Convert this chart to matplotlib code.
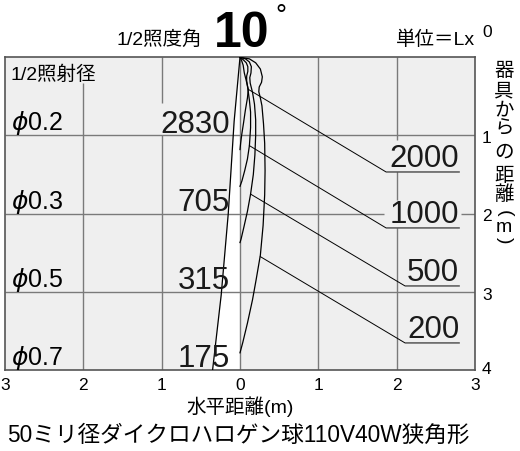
import matplotlib
matplotlib.use("Agg")
import matplotlib.pyplot as plt

plt.rcParams['font.family'] = ['Liberation Sans', 'Noto Sans CJK JP', 'DejaVu Sans']
plt.rcParams['mathtext.fontset'] = 'dejavusans'

# ---------------- data ----------------
x_ticks = [-3, -2, -1, 0, 1, 2, 3]
x_tick_labels = ['3', '2', '1', '0', '1', '2', '3']
depth_ticks = [0, 1, 2, 3, 4]

# 1/2 beam boundary (left side)
beam_x = [0, -0.075, -0.15, -0.24, -0.35]
beam_y = [0, 0.82, 2.0, 3.04, 4.0]

# centre illuminance & 1/2 beam diameter at 1..4 m
center_lux = ['2830', '705', '315', '175']
beam_diam = ['0.2', '0.3', '0.5', '0.7']
label_depth = [1, 2, 3, 4]

# isolux curves (x, depth)
iso_2000_x = [0, 0.02, 0.04, 0.055, 0.08, 0.106, 0.095, 0.068, 0.045, 0.022, 0.008, 0]
iso_2000_y = [0, 0.04, 0.10, 0.20, 0.30, 0.41, 0.52, 0.68, 0.84, 0.99, 1.10, 1.18]

iso_1000_x = [0, 0.04, 0.08, 0.10, 0.10, 0.085, 0.085, 0.10, 0.12, 0.135, 0.135, 0.12, 0.095, 0.06, 0.025, 0]
iso_1000_y = [0, 0.03, 0.07, 0.12, 0.18, 0.24, 0.30, 0.40, 0.55, 0.70, 0.90, 1.13, 1.30, 1.45, 1.58, 1.65]

iso_500_x = [0, 0.07, 0.12, 0.145, 0.14, 0.125, 0.13, 0.16, 0.185, 0.20, 0.20, 0.19, 0.17, 0.135, 0.095, 0.05, 0.015, 0]
iso_500_y = [0, 0.02, 0.06, 0.12, 0.20, 0.26, 0.33, 0.45, 0.60, 0.80, 1.00, 1.25, 1.50, 1.75, 1.97, 2.17, 2.32, 2.37]

iso_200_x = [0, 0.12, 0.20, 0.26, 0.285, 0.275, 0.245, 0.24, 0.26, 0.28, 0.30, 0.315, 0.32, 0.315,
             0.295, 0.26, 0.205, 0.16, 0.095, 0.035, 0]
iso_200_y = [0, 0.02, 0.07, 0.15, 0.25, 0.32, 0.38, 0.44, 0.52, 0.62, 0.85, 1.10, 1.45, 1.76,
             2.15, 2.53, 2.85, 3.10, 3.40, 3.65, 3.78]

iso_labels = ['2000', '1000', '500', '200']
iso_x = [iso_2000_x, iso_1000_x, iso_500_x, iso_200_x]
iso_y = [iso_2000_y, iso_1000_y, iso_500_y, iso_200_y]

# leader lines: attach point on curve -> start of underline
leader_x0 = [0.106, 0.12, 0.135, 0.26]
leader_y0 = [0.41, 1.13, 1.75, 2.55]
leader_x1 = [1.865, 1.865, 2.107, 2.107]
leader_y1 = [1.467, 2.183, 2.925, 3.654]
underline_end = 2.8

# ---------------- figure ----------------
fig = plt.figure(figsize=(5.2, 4.51), dpi=100)
ax = fig.add_axes([5 / 520, 81 / 451, 470 / 520, 312.7 / 451])
ax.set_xlim(-3, 3)
ax.set_ylim(4, 0)
ax.set_facecolor('#efefef')

ax.fill_betweenx(beam_y, beam_x, 0, color='white', zorder=1, lw=0)

gcol = '#7a7a7a'
glw = 1.0
# vertical grid (with gaps where labels sit)
ax.vlines(-2, 0.33, 4, color=gcol, lw=glw, zorder=2)
ax.vlines(-1, 0, 0.585, color=gcol, lw=glw, zorder=2)
ax.vlines(-1, 1, 4, color=gcol, lw=glw, zorder=2)
ax.vlines(0, 0, 4, color=gcol, lw=glw, zorder=2)
ax.vlines(1, 0, 4, color=gcol, lw=glw, zorder=2)
ax.vlines(2, 0, 1.06, color=gcol, lw=glw, zorder=2)
ax.vlines(2, 1.467, 1.825, color=gcol, lw=glw, zorder=2)
ax.vlines(2, 2.183, 4, color=gcol, lw=glw, zorder=2)
# horizontal grid
ax.hlines(1, -3, 3, color=gcol, lw=glw, zorder=2)
ax.hlines(2, -3, 1.84, color=gcol, lw=glw, zorder=2)
ax.hlines(2, 2.82, 3, color=gcol, lw=glw, zorder=2)
ax.hlines(3, -3, 3, color=gcol, lw=glw, zorder=2)

for s in ax.spines.values():
    s.set_color('#555555')
    s.set_linewidth(1.2)

# beam boundary
ax.plot(beam_x, beam_y, color='black', lw=0.9, zorder=4)

# isolux curves
for xs, ys in zip(iso_x, iso_y):
    ax.plot(xs, ys, color='black', lw=0.9, zorder=4, solid_joinstyle='round')

# leaders & labels
for lab, x0, y0, x1, y1 in zip(iso_labels, leader_x0, leader_y0, leader_x1, leader_y1):
    ax.plot([x0, x1, underline_end], [y0, y1, y1], color='black', lw=0.7, zorder=4)
    ax.text(underline_end, y1 - 0.065, lab, ha='right', va='baseline', fontsize=22.5,
            color='#1a1a1a', zorder=5)

# left labels
ax.text(-2.925, 0.29, '1/2照射径', ha='left', va='baseline', fontsize=14)
for d, lab, val in zip(label_depth, beam_diam, center_lux):
    ax.text(-2.925, d - 0.065, r'$\phi$' + lab, ha='left', va='baseline', fontsize=18)
    ax.text(-0.128, d - 0.035, val, ha='right', va='baseline', fontsize=22.5,
            color='#1a1a1a', zorder=5)

# x ticks
ax.set_xticks(x_ticks)
ax.set_xticklabels(x_tick_labels)
ax.set_yticks([])
ax.tick_params(axis='x', length=0, pad=5.5, labelsize=12.5)

# right depth labels
depth_label_y = [-0.26, 1.096, 2.1, 3.1, 4.05]
for d, yy in zip(depth_ticks, depth_label_y):
    ax.text(3.09, yy, str(d), ha='left', va='baseline', fontsize=12.5, clip_on=False)

# vertical axis title
vchars = ['器', '具', 'か', 'ら', 'の', '距', '離', '(', 'm', ')']
vy = [0.18, 0.437, 0.68, 0.92, 1.22, 1.52, 1.76, 2.0, 2.18, 2.34]
for ch, yy in zip(vchars, vy):
    rot = -90 if ch in '()' else 0
    ax.text(3.37, yy, ch, ha='center', va='center', fontsize=14, rotation=rot,
            rotation_mode='anchor', clip_on=False)

# header texts
ax.text(-1.58, -0.16, '1/2照度角', ha='left', va='baseline', fontsize=14, clip_on=False)
ax.text(-0.33, -0.138, '10', ha='left', va='baseline', fontsize=36, fontweight='bold',
        clip_on=False)
ax.text(0.45, -0.42, '°', ha='left', va='baseline', fontsize=20, clip_on=False)
ax.text(3.0, -0.16, '単位＝Lx', ha='right', va='baseline', fontsize=14, clip_on=False)

fig.text(240 / 520, 1 - 406.5 / 451, '水平距離(m)', ha='center', va='center', fontsize=14)
fig.text(238.5 / 520, 1 - 435 / 451, '50ミリ径ダイクロハロゲン球110V40W狭角形',
         ha='center', va='center', fontsize=16.3)

fig.savefig('out.png', dpi=100)
